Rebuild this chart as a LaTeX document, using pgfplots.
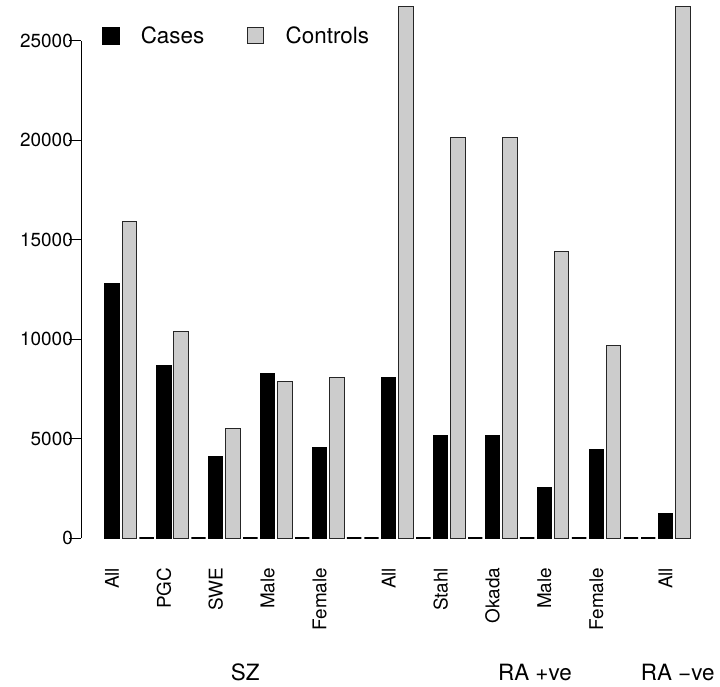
\documentclass[border=0pt]{standalone}
\usepackage{fontspec}
\setmainfont{TeX Gyre Heros}
\usepackage{pgfplots}
\pgfplotsset{compat=1.18}
\definecolor{ctrl}{RGB}{204,204,204}
\newcommand{\tickfont}{\fontsize{19}{22}\selectfont}
\begin{document}
\begin{tikzpicture}
\useasboundingbox (0,0) rectangle (720bp,687bp);
\begin{axis}[
  at={(81bp,149bp)}, anchor=south west,
  scale only axis, width=626.1bp, height=536.9bp,
  xmin=-1.79, xmax=34.4, ymin=0, ymax=27000,
  clip=false,
  axis y line*=left, axis x line*=bottom,
  x axis line style={draw=none}, y axis line style={draw=none},
  ytick={0,5000,10000,15000,20000,25000},
  yticklabels={0,5000,10000,15000,20000,25000},
  xtick={0,3,6,9,12,16,19,22,25,28,32},
  xticklabels={All,PGC,SWE,Male,Female,All,Stahl,Okada,Male,Female,All},
  major x tick style={draw=none},
  major y tick style={black, line width=1bp},
  tick align=outside, major tick length=11.7bp,
  scaled y ticks=false,
  every tick label/.append style={font=\tickfont},
  yticklabel style={anchor=east, inner sep=0pt, xshift=3.7bp},
  xticklabel style={rotate=90, anchor=east, inner sep=0pt, xshift=-18bp},
  legend columns=2,
  legend style={at={(0.033,0.936)}, anchor=west, draw=none, fill=none, inner sep=0pt,
    font=\fontsize{22.5}{26}\selectfont,
    /tikz/every odd column/.append style={column sep=19.5bp},
    /tikz/every even column/.append style={column sep=41bp}},
]
\addlegendimage{legend image code/.code={\fill[black] (0bp,-8.5bp) rectangle (17bp,8.5bp);}}
\addlegendentry{Cases}
\addlegendimage{legend image code/.code={\filldraw[fill=ctrl, draw=black!85, line width=0.9bp] (0.5bp,-8bp) rectangle (16.5bp,8bp);}}
\addlegendentry{Controls}
% Cases
\addplot[ybar, bar shift=0pt, bar width=0.833, fill=black, draw=black, line width=1bp, forget plot]
  coordinates {(0,12800) (3,8690) (6,4120) (9,8260) (12,4570) (16,8070) (19,5150) (22,5150) (25,2550) (28,4440) (32,1210)};
% Controls
\addplot[ybar, bar shift=0pt, bar width=0.833, fill=ctrl, draw=black!85, line width=1bp, forget plot]
  coordinates {(1,15900) (4,10400) (7,5530) (10,7890) (13,8050) (17,26750) (20,20120) (23,20120) (26,14420) (29,9700) (33,26750)};
% spacer (zero-height) bars
\addplot[ybar, bar shift=0pt, bar width=0.833, fill=none, draw=black, line width=1.5bp, forget plot]
  coordinates {(2,0) (5,0) (8,0) (11,0) (14,0) (15,0) (18,0) (21,0) (24,0) (27,0) (30,0) (31,0)};
\draw[line width=1bp] (rel axis cs:0,0) -- ({rel axis cs:0,0} |- {axis cs:0,25000});
\node[font=\fontsize{22.5}{26}\selectfont] at ([yshift=-134bp]axis cs:7.7,0) {SZ};
\node[font=\fontsize{22.5}{26}\selectfont] at ([yshift=-134bp]axis cs:24.45,0) {RA +ve};
\node[font=\fontsize{22.5}{26}\selectfont] at ([yshift=-134bp]axis cs:32.7,0) {RA −ve};
\end{axis}
\end{tikzpicture}
\end{document}
